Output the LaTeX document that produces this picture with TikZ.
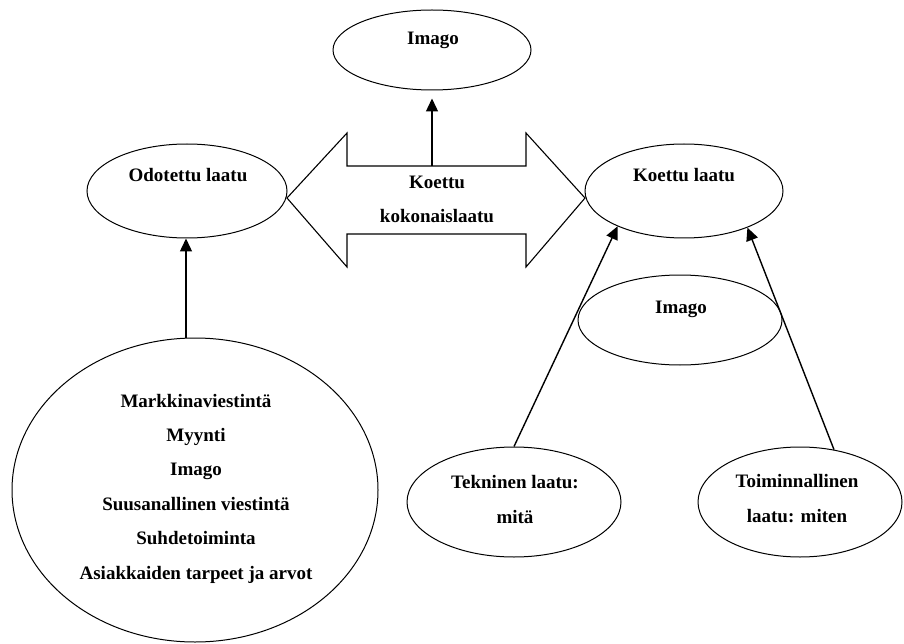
\documentclass[tikz,border=0pt]{standalone}
\usepackage{fontspec}
\setmainfont{Liberation Serif}
\usetikzlibrary{shapes.geometric,arrows.meta}
\begin{document}
\begin{tikzpicture}[x=1pt,y=-1pt,
  ell/.style={draw,ellipse,line width=1pt,inner sep=0pt},
  txt/.style={inner sep=0pt,anchor=base,font=\fontsize{19}{23}\selectfont\bfseries},
  arr/.style={line width=1.4pt,-{Triangle[length=13pt,width=12pt]}},
  dblarrow/.style={line width=1.1pt,line join=miter}]
\useasboundingbox (0,0) rectangle (904,644);
% ellipses
\node[ell,minimum width=198pt,minimum height=80pt] (imgtop) at (432,50) {};
\node[ell,minimum width=200pt,minimum height=94pt] (odot) at (187,191) {};
\node[ell,minimum width=198pt,minimum height=94pt] (koe) at (684,191) {};
\node[ell,minimum width=204pt,minimum height=90pt] (imgr) at (680,320) {};
\node[ell,minimum width=366pt,minimum height=304pt] (big) at (195,490) {};
\node[ell,minimum width=214pt,minimum height=110pt] (tek) at (514,502) {};
\node[ell,minimum width=204pt,minimum height=110pt] (toi) at (800,502) {};
% texts
\node[txt] (t1) at (433,45) {Imago};
\node[txt] (t2) at (188,182) {Odotettu laatu};
\node[txt] (t3) at (684,182) {Koettu laatu};
\node[txt] (t4) at (681,313) {Imago};
\node[txt] (t5) at (437,189) {Koettu};
\node[txt] (t6) at (437,223) {kokonaislaatu};
\node[txt] (b1) at (196,407) {Markkinaviestintä};
\node[txt] (b2) at (196,441) {Myynti};
\node[txt] (b3) at (196,475) {Imago};
\node[txt] (b4) at (196,510) {Suusanallinen viestintä};
\node[txt] (b5) at (196,544) {Suhdetoiminta};
\node[txt] (b6) at (196,579) {Asiakkaiden tarpeet ja arvot};
\node[txt] (k1) at (515,488) {Tekninen laatu:};
\node[txt] (k2) at (515,523) {mitä};
\node[txt] (m1) at (797,487) {Toiminnallinen};
\node[txt] (m2) at (797,522) {laatu: miten};
% double arrow
\coordinate (dl) at (287,198);
\coordinate (dr) at (585,198);
\coordinate (dtop) at (432,166);
\draw[dblarrow] (dl) -- (347,133) -- (347,166) -- (526,166) -- (526,133) -- (dr)
  -- (526,267) -- (526,234) -- (347,234) -- (347,267) -- cycle;
% connectors
\draw[arr,shorten >=8pt] (dtop) -- (imgtop.south);
\draw[arr] (big.north -| 186,0) -- (odot.south -| 186,0);
\draw[arr] (tek.north) -- (koe.208.7);
\draw[arr] (toi.57) -- (koe.330.2);
\end{tikzpicture}
\end{document}
